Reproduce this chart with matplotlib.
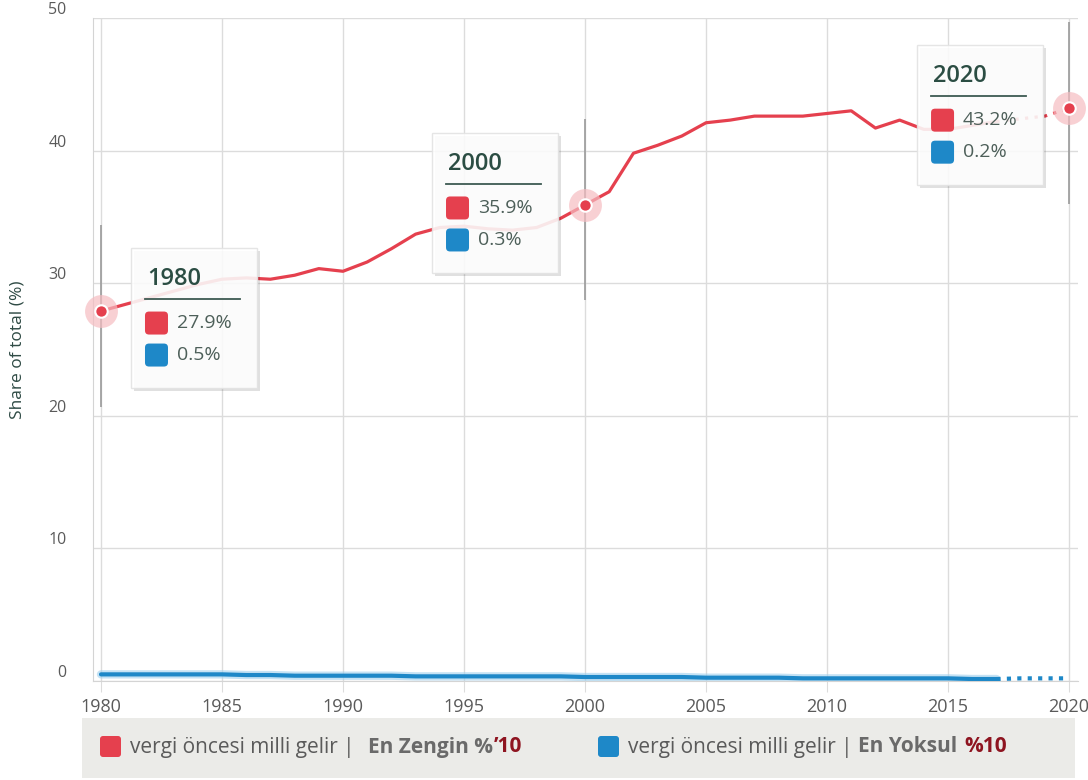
import matplotlib.pyplot as plt
from matplotlib.patches import FancyBboxPatch, Rectangle
from matplotlib.lines import Line2D
from matplotlib.transforms import IdentityTransform

years = list(range(1980, 2021))
top10 = [27.9, 28.4, 28.9, 29.4, 29.9, 30.3, 30.4, 30.3, 30.6, 31.1,
         30.9, 31.6, 32.6, 33.7, 34.2, 34.3, 34.1, 34.0, 34.2, 34.9,
         35.9, 36.9, 39.8, 40.4, 41.1, 42.1, 42.3, 42.6, 42.6, 42.6,
         42.8, 43.0, 41.7, 42.3, 41.6, 41.6, 41.9, 42.2, 42.4, 42.6, 43.2]
bottom10 = [0.5, 0.5, 0.5, 0.5, 0.5, 0.5, 0.45, 0.45, 0.4, 0.4,
            0.4, 0.4, 0.4, 0.35, 0.35, 0.35, 0.35, 0.35, 0.35, 0.35,
            0.3, 0.3, 0.3, 0.3, 0.3, 0.25, 0.25, 0.25, 0.25, 0.2,
            0.2, 0.2, 0.2, 0.2, 0.2, 0.2, 0.15, 0.15, 0.2, 0.2, 0.2]
last_solid = 2017
highlight_years = [1980, 2000, 2020]
xticks = list(range(1980, 2021, 5))
yticks = [0, 10, 20, 30, 40, 50]

RED = '#e5404e'
BLUE = '#1e88c8'
TEAL = '#2b4d43'
GRAY = '#5a5a5a'
DARKRED = '#8e1420'

plt.rcParams['font.family'] = ['Open Sans', 'DejaVu Sans']

W, H = 1088, 780
fig = plt.figure(figsize=(W / 100, H / 100), dpi=100)
ax = fig.add_axes([93 / W, (H - 681) / H, (1078 - 93) / W, (681 - 18) / H])
ax.set_xlim(1979.67, 2020.37)
ax.set_ylim(0, 50)

ax.set_xticks(xticks)
ax.set_yticks(yticks)
ax.set_yticklabels([])
ax.grid(True, color='#dcdcdc', lw=1)
ax.set_axisbelow(True)
for s in ['top', 'right']:
    ax.spines[s].set_visible(False)
for s in ['left', 'bottom']:
    ax.spines[s].set_color('#d4d4d4')
ax.tick_params(axis='x', length=8, color='#dcdcdc', pad=4, labelsize=13, labelcolor=GRAY)
ax.tick_params(axis='y', length=0)
for v in yticks:
    ax.annotate(str(v), xy=(0, v), xycoords=('axes fraction', 'data'), xytext=(-19, 0),
                textcoords='offset points', ha='right', va='bottom', fontsize=11.5, color=GRAY)

fig.text(18 / W, 1 - 350 / H, 'Share of total (%)', rotation=90, ha='center', va='center',
         fontsize=12.5, color='#2e4a44')

# hover lines
for yr in highlight_years:
    v = top10[years.index(yr)]
    ax.vlines(yr, v - 7.2, v + 6.5, color='#9a9a9a', lw=1.2, zorder=2)

# series
i = years.index(last_solid)
ax.plot(years[:i + 1], bottom10[:i + 1], color='#9fd0ee', lw=6, alpha=0.6, solid_capstyle='round', zorder=3)
ax.plot(years[:i + 1], bottom10[:i + 1], color=BLUE, lw=3, solid_capstyle='round', zorder=4)
ax.plot(years[i:], bottom10[i:], color=BLUE, lw=3, ls=(0, (1, 1.5)), zorder=4)
ax.plot(years[:i + 1], top10[:i + 1], color=RED, lw=2.3, solid_capstyle='round',
        solid_joinstyle='round', zorder=4)
ax.plot(years[i:], top10[i:], color=RED, lw=2.3, ls=(0, (1, 2)), zorder=4)

hv = [top10[years.index(y)] for y in highlight_years]
ax.scatter(highlight_years, hv, s=560, color='#f6bcc1', alpha=0.7, lw=0, zorder=5, clip_on=False)
ax.scatter(highlight_years, hv, s=80, color=RED, edgecolor='white', lw=1.5, zorder=6, clip_on=False)

# tooltips
ident = IdentityTransform()
offsets = {1980: (30, -63), 2000: (-153, -72), 2020: (-152, -63)}
for yr in highlight_years:
    j = years.index(yr)
    px, py = ax.transData.transform((yr, top10[j]))
    left = px + offsets[yr][0]
    top = py - offsets[yr][1]
    bw, bh = 126, 140
    fig.add_artist(Rectangle((left + 3, top - bh - 3), bw, bh, transform=ident,
                             facecolor='#000000', alpha=0.12, lw=0, zorder=7))
    fig.add_artist(Rectangle((left, top - bh), bw, bh, transform=ident,
                             facecolor='white', alpha=0.88, edgecolor='#e2e2e2', lw=1, zorder=8))
    fig.text(left + 16, top - 31, str(yr), transform=ident, ha='left', va='center',
             fontsize=17, fontweight='semibold', color=TEAL, zorder=9)
    fig.add_artist(Line2D([left + 14, left + 109], [top - 51, top - 51], transform=ident,
                          color='#3d5a52', lw=1.3, zorder=9))
    rows = [(RED, top10[j]), (BLUE, bottom10[j])]
    for k, (c, val) in enumerate(rows):
        cy = top - 75 - k * 32
        fig.add_artist(FancyBboxPatch((left + 14, cy - 11.5), 23, 23, transform=ident,
                                      boxstyle='round,pad=0,rounding_size=4',
                                      facecolor=c, lw=0, zorder=9))
        fig.text(left + 46, cy, f'{val:.1f}%', transform=ident, ha='left', va='center',
                 fontsize=14, color='#4d5f59', zorder=9)

# legend band
fig.add_artist(Rectangle((82, 2), 993, 60, transform=ident, facecolor='#ebebe8', lw=0, zorder=0))


def chain(x, color, parts):
    fig.add_artist(FancyBboxPatch((x, 23), 21, 21, transform=ident,
                                  boxstyle='round,pad=0,rounding_size=3', facecolor=color, lw=0))
    s, c, w, gap = parts[0]
    prev = fig.text(x + 30, 33, s, transform=ident, ha='left', va='center',
                    fontsize=15, color=c, fontweight=w)
    for s, c, w, gap in parts[1:]:
        prev = ax.annotate(s, xy=(1, 0.5), xycoords=prev, xytext=(gap, 0), textcoords='offset points',
                           ha='left', va='center', fontsize=15, color=c, fontweight=w,
                           annotation_clip=False)


chain(100, RED, [('vergi öncesi milli gelir |', GRAY, 'normal', 0),
                 ('En Zengin %', '#6a6a6a', 'bold', 10),
                 ('\u201910', DARKRED, 'bold', 0)])
chain(598, BLUE, [('vergi öncesi milli gelir |', GRAY, 'normal', 0),
                  ('En Yoksul', '#6a6a6a', 'bold', 4),
                  ('%10', DARKRED, 'bold', 5)])

fig.savefig('out.png', dpi=100)
